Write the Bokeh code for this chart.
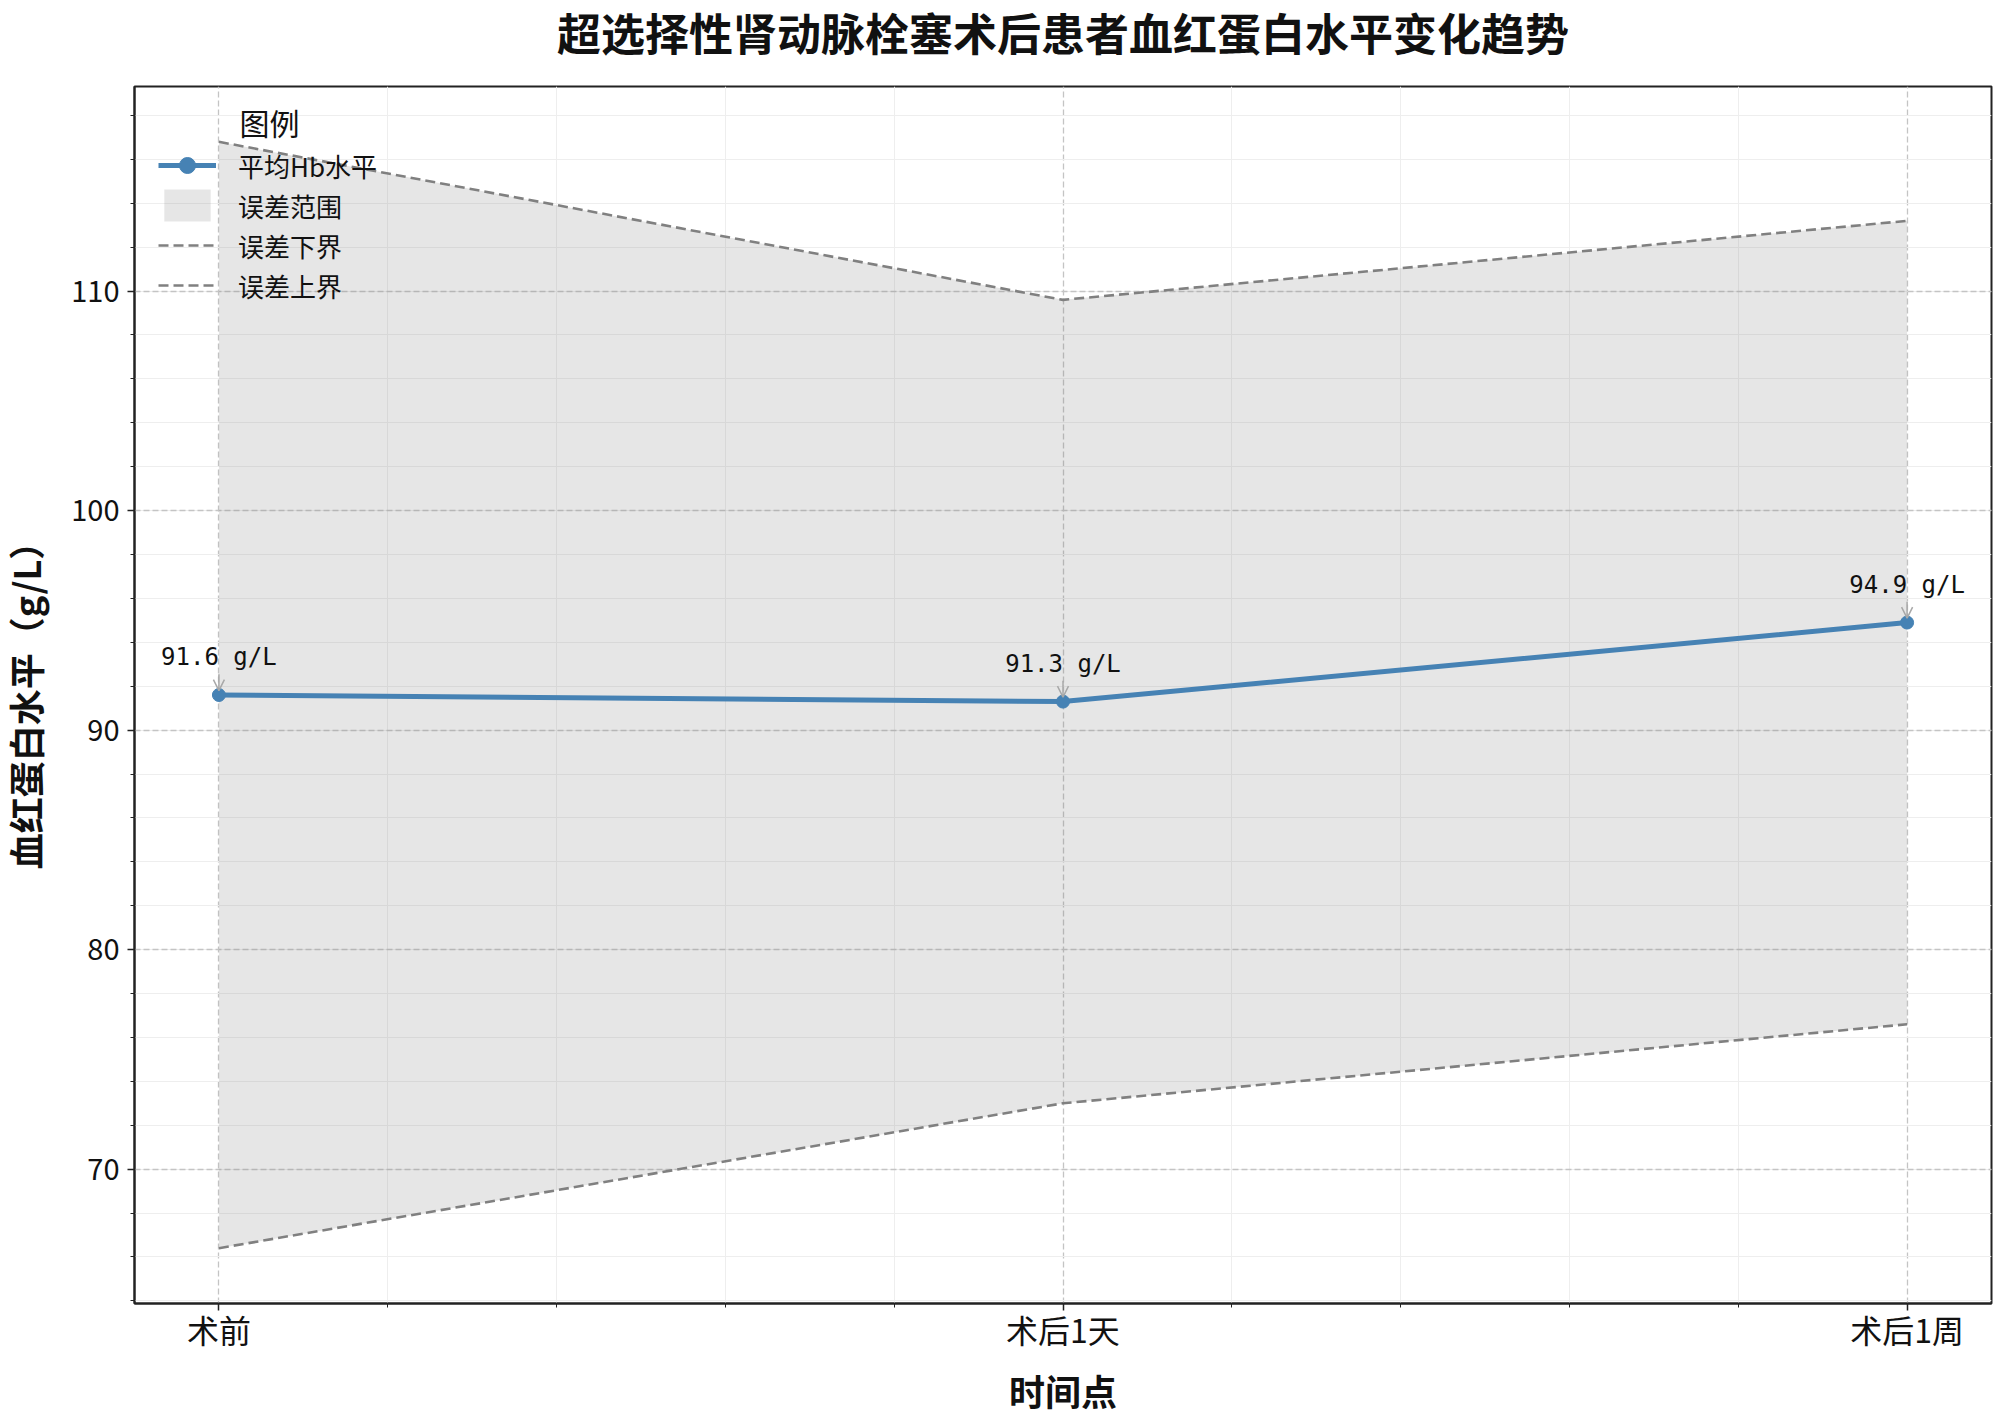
import math
from bokeh.plotting import figure
from bokeh.layouts import column, row
from bokeh.models import Range1d, FixedTicker, ColumnDataSource, Arrow, OpenHead, Label, Legend, LegendItem
from bokeh.embed import file_html
from bokeh.resources import INLINE
from bokeh.core.properties import value

# ---- data ----
categories = ["术前", "术后1天", "术后1周"]
mean_hb = [91.6, 91.3, 94.9]
lower_bound = [66.4, 73.0, 76.6]
upper_bound = [116.8, 109.6, 113.2]
y_ticks = [70, 80, 90, 100, 110]

title_text = "超选择性肾动脉栓塞术后患者血红蛋白水平变化趋势"
x_label = "时间点"
y_label = "血红蛋白水平（g/L）"
legend_title = "图例"
legend_labels = ["平均Hb水平", "误差范围", "误差下界", "误差上界"]

FONT = "Noto Sans CJK SC"
BLUE = "#4682B4"

n = len(categories)
xs = list(range(n))
ann_text = [f"{v:.1f} g/L" for v in mean_hb]

lo, hi = min(lower_bound), max(upper_bound)
ypad = 0.05 * (hi - lo)
xpad = 0.05 * (n - 1)

W, H = 2000, 1418
TITLE_H = 82
YLAB_W = 50
MAIN_W, MAIN_H = W - YLAB_W, H - TITLE_H
BL, BR, BT, BB = 134 - YLAB_W, 9, 86 - TITLE_H, 114
FRAME_H = MAIN_H - BT - BB
FRAME_W = MAIN_W - BL - BR

# ---- title strip ----
pt = figure(width=W, height=TITLE_H, output_backend="svg", toolbar_location=None,
            x_range=Range1d(0, 1), y_range=Range1d(0, 1), x_axis_type=None, y_axis_type=None,
            min_border=0, outline_line_color=None, background_fill_color="white",
            border_fill_color="white")
pt.add_layout(Label(x=YLAB_W + BL + FRAME_W / 2, y=TITLE_H - 31, x_units="screen", y_units="screen",
                    text=title_text, text_font=FONT, text_font_size="44px",
                    text_font_style="bold", text_align="center", text_baseline="middle",
                    text_color="#111111"))

# ---- y-label strip ----
py = figure(width=YLAB_W, height=MAIN_H, output_backend="svg", toolbar_location=None,
            x_range=Range1d(0, 1), y_range=Range1d(0, 1), x_axis_type=None, y_axis_type=None,
            min_border=0, outline_line_color=None, background_fill_color="white",
            border_fill_color="white")
py.add_layout(Label(x=24, y=BB + FRAME_H / 2 - 116, x_units="screen", y_units="screen",
                    text=y_label, angle=math.pi / 2, text_font=FONT, text_font_size="36px",
                    text_font_style="bold", text_align="center", text_baseline="middle",
                    text_color="#111111"))

# ---- main plot ----
p = figure(width=MAIN_W, height=MAIN_H, output_backend="svg", toolbar_location=None,
           x_range=Range1d(-xpad, n - 1 + xpad), y_range=Range1d(lo - ypad, hi + ypad),
           min_border_left=BL, min_border_right=BR, min_border_top=BT, min_border_bottom=BB,
           background_fill_color="white", border_fill_color="white")

r_fill = p.varea(x=xs, y1=lower_bound, y2=upper_bound, fill_color="gray", fill_alpha=0.2)
r_low = p.line(xs, lower_bound, line_color="gray", line_width=2.6, line_dash="10 5")
r_up = p.line(xs, upper_bound, line_color="gray", line_width=2.6, line_dash="10 5")
r_mean = p.line(xs, mean_hb, line_color=BLUE, line_width=5)
r_pts = p.scatter(xs, mean_hb, size=13, fill_color=BLUE, line_color=BLUE)

arr_src = ColumnDataSource(dict(
    x0=xs, x1=xs,
    y0=[v + 0.95 for v in mean_hb],
    y1=[v + 0.2 for v in mean_hb],
))
p.add_layout(Arrow(end=OpenHead(size=11, line_color="#a8a8a8", line_width=1.5),
                   x_start="x0", y_start="y0", x_end="x1", y_end="y1",
                   source=arr_src, line_color="#a8a8a8", line_width=1.5))
p.text(x=xs, y=mean_hb, text=ann_text, text_font=value("DejaVu Sans Mono"),
       text_font_size="24px", text_align="center", text_baseline="middle",
       y_offset=-38, text_color="#111111")

p.xaxis.ticker = FixedTicker(ticks=xs, minor_ticks=[i / 5 for i in range(0, 5 * (n - 1) + 1) if i % 5])
p.xaxis.major_label_overrides = {i: c for i, c in enumerate(categories)}
p.yaxis.ticker = FixedTicker(ticks=y_ticks, minor_ticks=list(range(64, 120, 2)))
p.xaxis.axis_label = x_label
for ax in (p.xaxis, p.yaxis):
    ax.axis_label_text_font = FONT
    ax.axis_label_text_font_size = "36px"
    ax.axis_label_text_font_style = "bold"
    ax.axis_label_text_color = "#111111"
    ax.axis_label_text_line_height = 1.0
    ax.major_label_text_font = FONT
    ax.major_label_text_color = "#111111"
    ax.axis_line_color = "#222222"
    ax.axis_line_width = 2
    ax.major_tick_line_color = "#222222"
    ax.minor_tick_line_color = "#222222"
    ax.major_tick_line_width = 1.5
    ax.minor_tick_line_width = 1
    ax.major_tick_in = 0
    ax.major_tick_out = 7
    ax.minor_tick_in = 0
    ax.minor_tick_out = 4
p.xaxis.major_label_text_font_size = "32px"
p.yaxis.major_label_text_font_size = "29px"
p.xaxis.major_label_standoff = -5
p.yaxis.major_label_standoff = 8
p.xaxis.axis_label_standoff = 9

p.outline_line_color = "#222222"
p.outline_line_width = 2

for g in (p.xgrid, p.ygrid):
    g.grid_line_color = "#c4c4c4"
    g.grid_line_dash = "6 3"
    g.grid_line_width = 1.3
    g.minor_grid_line_color = "#eeeeee"
    g.minor_grid_line_width = 1

PAD, ITEM_H = 10, 40
n_items = len(legend_labels)
leg_h = 2 * PAD + n_items * ITEM_H
first_center_from_top = 80
leg_bottom = FRAME_H - (first_center_from_top - ITEM_H / 2 - PAD) - leg_h
legend = Legend(items=[
    LegendItem(label=legend_labels[0], renderers=[r_mean, r_pts]),
    LegendItem(label=legend_labels[1], renderers=[r_fill]),
    LegendItem(label=legend_labels[2], renderers=[r_low]),
    LegendItem(label=legend_labels[3], renderers=[r_up]),
], location=(14, int(leg_bottom)), background_fill_alpha=0, border_line_alpha=0,
    label_text_font=FONT, label_text_font_size="26px", label_text_color="#111111",
    glyph_width=58, glyph_height=ITEM_H, label_height=ITEM_H, spacing=0, padding=PAD, margin=0,
    label_standoff=22)
p.add_layout(legend)

p.add_layout(Label(x=135, y=FRAME_H - 36, x_units="screen", y_units="screen", text=legend_title,
                   text_font=FONT, text_font_size="30px", text_align="center",
                   text_baseline="middle", text_color="#111111"))

layout = column(pt, row(py, p, spacing=0), spacing=0)
open("out.html", "w").write(file_html(layout, INLINE))
